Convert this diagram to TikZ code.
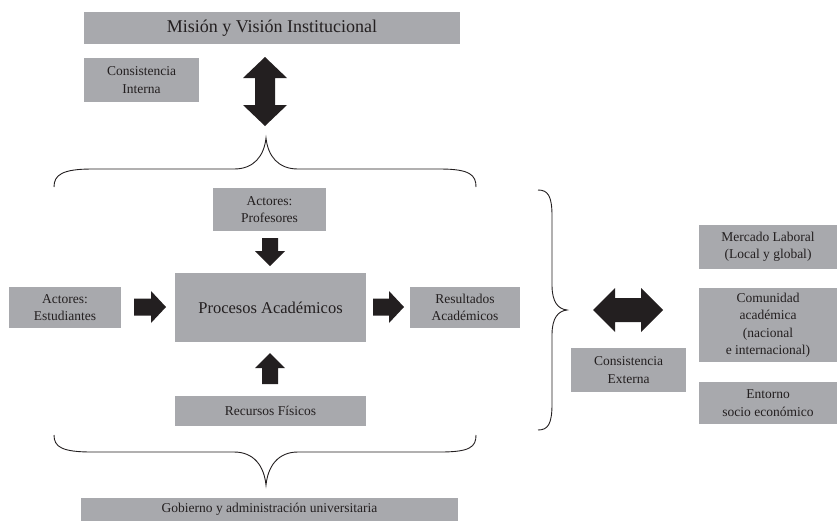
\documentclass[tikz,border=0pt]{standalone}
\usepackage{fontspec}
\setmainfont{Liberation Serif}
\definecolor{boxgray}{RGB}{168,169,173}
\definecolor{ink}{RGB}{35,31,32}
\tikzset{
  gbox/.style={fill=boxgray, text=ink, align=center, inner sep=0pt, draw=none,
    font=\fontsize{13.5}{17.5}\selectfont},
  bigtext/.style={font=\fontsize{18}{22}\selectfont},
  midtext/.style={font=\fontsize{16.5}{20}\selectfont},
  blockarrow/.style={fill=ink, draw=none},
  bracestyle/.style={draw=ink, line width=0.9pt}
}
\begin{document}
\begin{tikzpicture}[x=1pt,y=-1pt]
\useasboundingbox (0,0) rectangle (837,523);

% boxes
\node[gbox,bigtext,minimum width=376pt,minimum height=32pt] (mision) at (272,28) {Misión y Visión Institucional};
\node[gbox,minimum width=115pt,minimum height=44pt] (cinterna) at (141.5,80) {Consistencia\\Interna};
\node[gbox,minimum width=113pt,minimum height=43pt] (prof) at (269.5,209.5) {Actores:\\Profesores};
\node[gbox,midtext,minimum width=191pt,minimum height=69pt] (proc) at (270.5,307.5) {Procesos Académicos};
\node[gbox,minimum width=112pt,minimum height=41pt] (estud) at (65,307.5) {Actores:\\Estudiantes};
\node[gbox,minimum width=110pt,minimum height=41pt] (result) at (465,307.5) {Resultados\\Académicos};
\node[gbox,minimum width=191pt,minimum height=30pt] (recursos) at (270.5,411) {Recursos Físicos};
\node[gbox,minimum width=377pt,minimum height=23pt] (gobierno) at (269.5,509.5) {Gobierno y administración universitaria};
\node[gbox,minimum width=115pt,minimum height=44pt] (cexterna) at (628.5,370) {Consistencia\\Externa};
\node[gbox,minimum width=138pt,minimum height=44pt] (mercado) at (768,247) {Mercado Laboral\\(Local y global)};
\node[gbox,minimum width=138pt,minimum height=74pt] (comunidad) at (768,325) {Comunidad\\académica\\(nacional\\e internacional)};
\node[gbox,minimum width=138pt,minimum height=42pt] (entorno) at (768,403) {Entorno\\socio económico};

% block arrows
\fill[blockarrow] (265,57) -- (287,78) -- (275,78) -- (275,105) -- (287,105) -- (265,126)
  -- (243,105) -- (255,105) -- (255,78) -- (243,78) -- cycle;
\fill[blockarrow] (262,238) -- (278,238) -- (278,251) -- (285,251) -- (270,266) -- (255,251) -- (262,251) -- cycle;
\fill[blockarrow] (270,353) -- (285,368) -- (278,368) -- (278,384) -- (262,384) -- (262,368) -- (255,368) -- cycle;
\fill[blockarrow] (134,298.5) -- (151,298.5) -- (151,291) -- (166,307) -- (151,323) -- (151,315.5) -- (134,315.5) -- cycle;
\fill[blockarrow] (373,298.5) -- (389,298.5) -- (389,291) -- (404,307) -- (389,323) -- (389,315.5) -- (373,315.5) -- cycle;
\fill[blockarrow] (593,310) -- (615,288) -- (615,298) -- (641,298) -- (641,288) -- (663,310)
  -- (641,332) -- (641,322) -- (615,322) -- (615,332) -- cycle;

% braces
\draw[bracestyle] (54,187) .. controls (54,175) and (62,169) .. (92,169) -- (234,169)
  .. controls (254,169) and (264,156) .. (266,138)
  .. controls (268,156) and (278,169) .. (298,169) -- (440,169)
  .. controls (470,169) and (476,175) .. (476,187);
\draw[bracestyle] (54,435) .. controls (54,447) and (62,452) .. (92,452) -- (234,452)
  .. controls (254,452) and (264,466) .. (266,485)
  .. controls (268,466) and (278,452) .. (298,452) -- (440,452)
  .. controls (470,452) and (476,447) .. (476,435);
\draw[bracestyle] (538,190) .. controls (548,190) and (552,196) .. (552,216) -- (552,285)
  .. controls (552,302) and (558,309) .. (567,310)
  .. controls (558,311) and (552,318) .. (552,335) -- (552,404)
  .. controls (552,424) and (548,430) .. (538,430);
\end{tikzpicture}
\end{document}
